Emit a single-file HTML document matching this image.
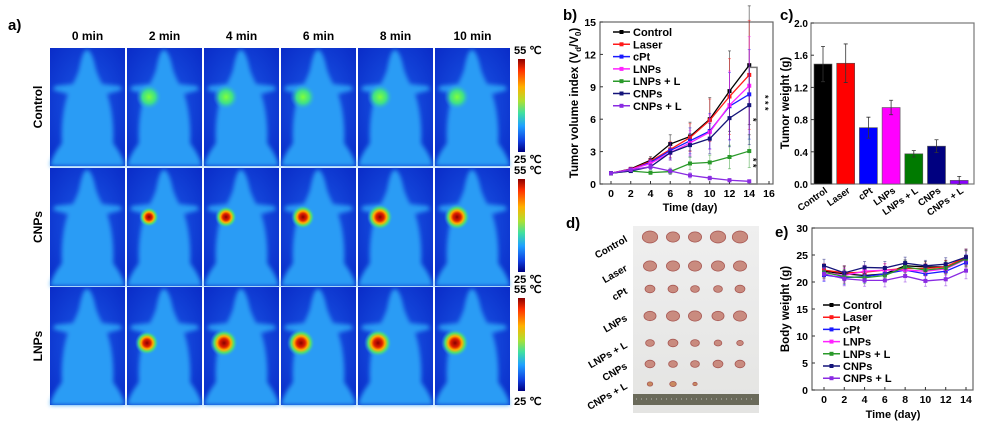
<!DOCTYPE html>
<html><head><meta charset="utf-8"><style>
body{margin:0;background:#fff;width:999px;height:439px;overflow:hidden;font-family:"Liberation Sans",Arial,sans-serif}
svg text{font-family:"Liberation Sans",Arial,sans-serif;font-weight:bold}
</style></head><body>
<svg id="fig" width="999" height="439" viewBox="0 0 999 439" xmlns="http://www.w3.org/2000/svg">
<defs>
<filter id="blur1" x="-10%" y="-10%" width="120%" height="120%"><feGaussianBlur stdDeviation="2"/></filter>
<radialGradient id="hotG"><stop offset="0" stop-color="#7fff3a"/><stop offset="0.5" stop-color="#3ee08a"/><stop offset="1" stop-color="#2a9cf5" stop-opacity="0"/></radialGradient>
<radialGradient id="hotR"><stop offset="0" stop-color="#8a0000"/><stop offset="0.3" stop-color="#e02000"/><stop offset="0.5" stop-color="#ffb000"/><stop offset="0.7" stop-color="#50e070"/><stop offset="1" stop-color="#2a9cf5" stop-opacity="0"/></radialGradient>
<linearGradient id="cbar" x1="0" y1="0" x2="0" y2="1"><stop offset="0" stop-color="#8a0000"/><stop offset="0.12" stop-color="#ff3000"/><stop offset="0.3" stop-color="#ffb000"/><stop offset="0.45" stop-color="#b0e030"/><stop offset="0.58" stop-color="#40e0a0"/><stop offset="0.72" stop-color="#20a0ff"/><stop offset="0.88" stop-color="#1040e0"/><stop offset="1" stop-color="#000080"/></linearGradient>
<radialGradient id="bgG" cx="0.5" cy="0.5" r="0.7"><stop offset="0" stop-color="#1a5ae8"/><stop offset="1" stop-color="#0a2cc8"/></radialGradient>
<linearGradient id="photo" x1="0" y1="0" x2="0" y2="1"><stop offset="0" stop-color="#efefef"/><stop offset="1" stop-color="#e4e4e2"/></linearGradient>
</defs>
<g id="panelA"></g>
<g id="panelB"></g>
<g id="panelC"></g>
<g id="panelD"></g>
<g id="panelE"></g>
</svg>
<script>
// ---------- data ----------
var groups = ["Control","Laser","cPt","LNPs","LNPs + L","CNPs","CNPs + L"];
var colors = ["#000000","#ff1a1a","#1a1aff","#ff22ff","#2a9a2a","#14147a","#8a2be2"];
var days = [0,2,4,6,8,10,12,14];
var volControl = [1,1.4,2.2,3.7,4.4,6.0,8.6,11.0];
var volLaser   = [1,1.35,2.1,3.2,4.3,5.9,8.1,10.1];
var volCpt     = [1,1.3,2.0,3.1,4.0,4.9,7.2,8.3];
var volLNPs    = [1,1.35,1.9,2.9,3.8,4.8,7.3,9.1];
var volLNPsL   = [1,1.2,1.05,1.15,1.9,2.0,2.5,3.05];
var volCNPs    = [1,1.2,1.6,2.9,3.6,4.2,6.1,7.3];
var volCNPsL   = [1,1.3,1.6,1.2,0.8,0.55,0.35,0.25];
var volErr     = [0.1,0.5,0.9,1.4,1.8,2.0,2.6,3.0];
var weights    = [1.49,1.50,0.70,0.95,0.375,0.47,0.045];
var weightErr  = [0.22,0.24,0.13,0.09,0.04,0.08,0.05];
var bwControl = [22,21.5,21.2,21.5,23,22.8,22.8,24.4];
var bwLaser   = [22.2,21.7,21.8,22.2,22.5,22.5,22.8,24.6];
var bwCpt     = [21.3,20.8,21.0,21.5,22.2,21.5,22.0,23.6];
var bwLNPs    = [21.8,21.2,22.0,22.2,22.2,22.0,22.4,24.2];
var bwLNPsL   = [21.8,21.0,20.8,21.2,22.8,22.2,22.6,24.3];
var bwCNPs    = [23.0,21.7,22.7,22.6,23.5,23.0,23.3,24.6];
var bwCNPsL   = [21.5,20.6,20.3,20.3,21.1,20.2,20.5,22.1];
var bwErr     = [1.2,1.3,1.1,1.2,1.1,1.0,1.2,1.5];
var bTicksY = [0,3,6,9,12,15];
var bTicksX = [0,2,4,6,8,10,12,14,16];
var cTicksY = [0,0.4,0.8,1.2,1.6,2.0];
var eTicksY = [0,5,10,15,20,25,30];
var eTicksX = [0,2,4,6,8,10,12,14];
var timeLabels = ["0 min","2 min","4 min","6 min","8 min","10 min"];
var rowLabels = ["Control","CNPs","LNPs"];

var NS="http://www.w3.org/2000/svg";
function mk(tag,attrs,parent,txt){var e=document.createElementNS(NS,tag);for(var k in attrs)e.setAttribute(k,attrs[k]);if(txt!==undefined)e.textContent=txt;parent.appendChild(e);return e;}

// ---------- panel A ----------
var A=document.getElementById('panelA');
var t=mk('text',{x:8,y:30,'font-size':15},A,'a)');


var mousePath="M37,2 C41,2 44,12 46,22 C48,28 50,32 52,36 L70,38 L72,42 L57,46 C62,60 64,80 63,95 C66,100 72,106 75,118 L0,118 C3,106 9,100 12,95 C11,80 13,60 18,46 L3,42 L5,38 L23,36 C25,32 27,28 29,22 C31,12 33,2 37,2 Z";
var colX=[50,127,204,281,358,435], rowY=[48,168,287], cw=75, ch=118;
var spotSize=[[0,9,9,9,9,9],[0,6,7,8,9,9],[0,8,10,10,10,10]];
for(var c=0;c<6;c++){
  var tl=mk('text',{x:colX[c]+cw/2,y:40,'font-size':12,'text-anchor':'middle'},A,timeLabels[c]);
  
  
}
for(var r=0;r<3;r++){
  var rl=mk('text',{x:0,y:0,'font-size':12,'text-anchor':'middle',transform:'translate(42,'+(rowY[r]+ch/2)+') rotate(-90)'},A,rowLabels[r]);
  
  
  for(var c=0;c<6;c++){
    var g=mk('g',{transform:'translate('+colX[c]+','+rowY[r]+')'},A);
    
    
    mk('rect',{x:0,y:0,width:cw,height:ch,fill:'url(#bgG)'},g);
    mk('path',{d:mousePath,fill:'#2a9cf5',filter:'url(#blur1)'},g);
    var s=spotSize[r][c];
    if(s>0){
      var cx=r==2?20:22, cy=r==2?56:49;
      mk('circle',{cx:cx,cy:cy,r:s+4,fill:r==0?'url(#hotG)':'url(#hotR)'},g);
    }
  }
  var cb=mk('rect',{x:518,y:rowY[r]+11,width:7,height:ch-25,fill:'url(#cbar)'},A);
  
  
  var t1=mk('text',{x:514,y:rowY[r]+6,'font-size':11,'font-weight':'normal'},A,'55 ℃');
  
  
  var t2=mk('text',{x:514,y:rowY[r]+ch-3+(r==2?3:0),'font-size':11,'font-weight':'normal'},A,'25 ℃');
  
  
}

// ---------- line chart helper ----------
function lineChart(P,opt,series){
  var sx=function(v){return opt.x0+(v-opt.dx0)/(opt.dx1-opt.dx0)*(opt.x1-opt.x0);};
  var sy=function(v){return opt.y1-(v-opt.dy0)/(opt.dy1-opt.dy0)*(opt.y1-opt.y0);};
  var fr=mk('rect',{x:opt.fx0,y:opt.y0,width:opt.fx1-opt.fx0,height:opt.yb-opt.y0,fill:'none',stroke:'#666','stroke-width':1.2},P);
  
  
  opt.ty.forEach(function(v){
    mk('line',{x1:opt.fx0,x2:opt.fx0+3,y1:sy(v),y2:sy(v),stroke:'#333'},P);
    var l=mk('text',{x:opt.fx0-4,y:sy(v)+4,'font-size':10.5,'text-anchor':'end'},P,v);
    
    
  });
  opt.tx.forEach(function(v){
    mk('line',{x1:sx(v),x2:sx(v),y1:opt.yb,y2:opt.yb-3,stroke:'#333'},P);
    var l=mk('text',{x:sx(v),y:opt.yb+13,'font-size':10.5,'text-anchor':'middle'},P,v);
    
    
  });
  series.forEach(function(s,i){
    var g=mk('g',{},P);
    
    
    var pts=s.map(function(v,j){return sx(days[j])+','+sy(v);}).join(' ');
    s.forEach(function(v,j){
      var e=opt.err[j]*(opt.errScale?(v/opt.errScale):1);
      mk('line',{x1:sx(days[j]),x2:sx(days[j]),y1:sy(v-e),y2:sy(v+e),stroke:colors[i],'stroke-opacity':0.45},g);
      mk('line',{x1:sx(days[j])-1.5,x2:sx(days[j])+1.5,y1:sy(v+e),y2:sy(v+e),stroke:colors[i],'stroke-opacity':0.45},g);
      mk('line',{x1:sx(days[j])-1.5,x2:sx(days[j])+1.5,y1:sy(v-e),y2:sy(v-e),stroke:colors[i],'stroke-opacity':0.45},g);
    });
    mk('polyline',{points:pts,fill:'none',stroke:colors[i],'stroke-width':1.3},g);
    s.forEach(function(v,j){
      var m=mk('rect',{x:sx(days[j])-2,y:sy(v)-2,width:4,height:4,fill:colors[i]},g);
      
      
    });
  });
  var lg=mk('g',{},P);
  
  
  groups.forEach(function(n,i){
    var y=opt.ly+i*opt.ls;
    mk('line',{x1:opt.lx,x2:opt.lx+17,y1:y,y2:y,stroke:colors[i],'stroke-width':1.5},lg);
    mk('rect',{x:opt.lx+6.5,y:y-2,width:4,height:4,fill:colors[i]},lg);
    var t=mk('text',{x:opt.lx+20,y:y+4,'font-size':11},lg,n);
    
    
  });
  return {sx:sx,sy:sy};
}

// ---------- panel B ----------
var B=document.getElementById('panelB');
var bl=mk('text',{x:563,y:20,'font-size':15},B,'b)');


var bs=lineChart(B,{x0:611,x1:769,dx0:0,dx1:16,y0:22,y1:184,yb:184,dy0:0,dy1:15,fx0:600,fx1:773,ty:bTicksY,tx:bTicksX,err:volErr,errScale:6,lx:613,ly:32,ls:12.3},
  [volControl,volLaser,volCpt,volLNPs,volLNPsL,volCNPs,volCNPsL]);
var byt=mk('text',{x:0,y:0,'font-size':11.5,'text-anchor':'middle',transform:'translate(578,103) rotate(-90)'},B);


byt.innerHTML='Tumor volume index (V<tspan font-size="8" dy="3">d</tspan><tspan dy="-3">/V</tspan><tspan font-size="8" dy="3">0</tspan><tspan dy="-3">)</tspan>';
var bxt=mk('text',{x:690,y:211,'font-size':11,'text-anchor':'middle'},B,'Time (day)');


var br=mk('path',{d:'M'+bs.sx(14)+','+bs.sy(10.8)+' H757 V184 H'+bs.sx(14),fill:'none',stroke:'#777','stroke-width':1.5},B);


mk('text',{x:0,y:0,'font-size':9,transform:'translate(762,95) rotate(90)'},B,'* * *');
mk('text',{x:0,y:0,'font-size':9,transform:'translate(750,158) rotate(90)'},B,'* *');
mk('text',{x:0,y:0,'font-size':9,transform:'translate(750,118) rotate(90)'},B,'*');

// ---------- panel C ----------
var C=document.getElementById('panelC');
var cl=mk('text',{x:780,y:20,'font-size':15},C,'c)');


var cx0=811,cx1=974,cy0=23,cy1=184;
var csy=function(v){return cy1-v/2*(cy1-cy0);};
var cf=mk('rect',{x:cx0,y:cy0,width:cx1-cx0,height:cy1-cy0,fill:'none',stroke:'#777','stroke-width':1.2},C);


cTicksY.forEach(function(v){
  mk('line',{x1:cx0,x2:cx0+3,y1:csy(v),y2:csy(v),stroke:'#333'},C);
  var l=mk('text',{x:cx0-3,y:csy(v)+4,'font-size':10,'text-anchor':'end'},C,v.toFixed(1));
  
  
});
var barColors=["#000000","#ff0000","#0000ff","#ff00ff","#007a00","#000080","#8a00ff"];
weights.forEach(function(v,i){
  var x=814+i*22.7;
  var b=mk('rect',{x:x,y:csy(v),width:18,height:cy1-csy(v),fill:barColors[i],stroke:'#555','stroke-width':0.6},C);
  
  
  var xc=x+9,e=weightErr[i];
  mk('path',{d:'M'+xc+','+csy(v-e)+'V'+csy(v+e)+'M'+(xc-2)+','+csy(v+e)+'h4M'+(xc-2)+','+csy(v-e)+'h4',stroke:'#333','stroke-width':0.8,fill:'none'},C);
  var l=mk('text',{x:0,y:0,'font-size':9.5,'text-anchor':'end',transform:'translate('+(xc+5)+',192) rotate(-35)'},C,groups[i]);
  
  
});
var cyt=mk('text',{x:0,y:0,'font-size':11.5,'text-anchor':'middle',transform:'translate(789,103) rotate(-90)'},C,'Tumor weight (g)');



// ---------- panel D ----------
var D=document.getElementById('panelD');
var dl=mk('text',{x:566,y:228,'font-size':15},D,'d)');


var ph=mk('rect',{x:633,y:226,width:126,height:187,fill:'url(#photo)'},D);


var rowYs=[237,266,289,316,343,364,384];
var nPer=[5,5,5,5,5,5,3];
var sizes=[[7,6,6,7,7],[6,6,6,6,6],[4.5,4.5,4,4,4.5],[5.5,6,6,5.5,6],[4,4.5,4,3.5,3],[4.5,4,4,4.5,4.5],[2.5,3,2]];
var colXs=[650,673,695,718,740];
rowYs.forEach(function(y,r){
  for(var k=0;k<nPer[r];k++){
    var s=sizes[r][k];
    mk('ellipse',{cx:colXs[k],cy:y,rx:s*1.1,ry:s*0.85,fill:r==6?'#c98a60':'#c98b7f',stroke:'#a85a55','stroke-width':0.8},D);
  }
  var l=mk('text',{x:0,y:0,'font-size':10,'text-anchor':'end',transform:'translate(628,'+(y+4)+') rotate(-30)'},D,groups[r]);
  
  
});
var ru=mk('rect',{x:633,y:394,width:126,height:11,fill:'#6a6a5a'},D);


mk('line',{x1:636,x2:756,y1:399,y2:399,stroke:'#bbb','stroke-dasharray':'1 4'},D);

// ---------- panel E ----------
var E=document.getElementById('panelE');
var el=mk('text',{x:775,y:237,'font-size':15},E,'e)');


lineChart(E,{x0:824,x1:966,dx0:0,dx1:14,y0:228,y1:390,yb:390,dy0:0,dy1:30,fx0:812,fx1:973,ty:eTicksY,tx:eTicksX,err:bwErr,errScale:0,lx:823,ly:305,ls:12.2},
  [bwControl,bwLaser,bwCpt,bwLNPs,bwLNPsL,bwCNPs,bwCNPsL]);
var eyt=mk('text',{x:0,y:0,'font-size':11.5,'text-anchor':'middle',transform:'translate(789,309) rotate(-90)'},E,'Body weight (g)');


var ext=mk('text',{x:893,y:418,'font-size':11,'text-anchor':'middle'},E,'Time (day)');


</script>
</body></html>
